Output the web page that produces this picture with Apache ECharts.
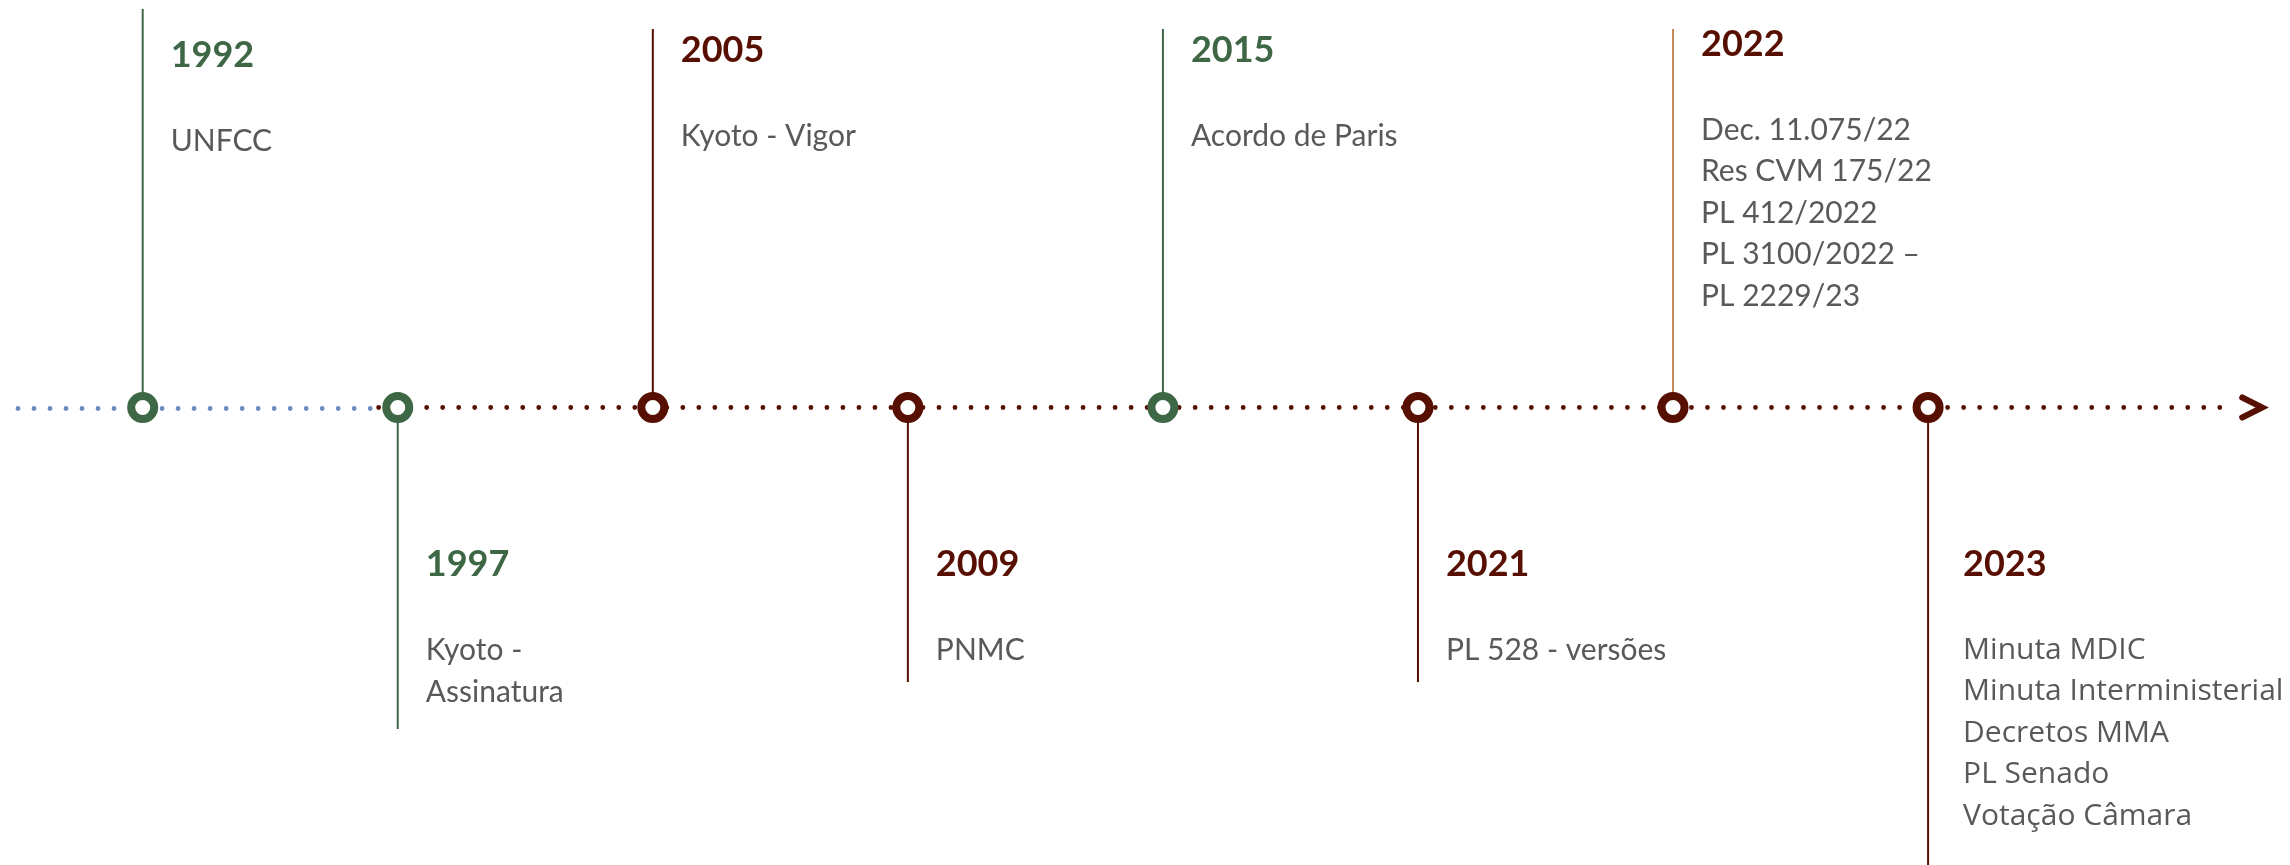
<!DOCTYPE html>
<html>
<head>
<meta charset="utf-8">
<script src="https://cdn.jsdelivr.net/npm/echarts@6/dist/echarts.min.js"></script>
<style>
html,body{margin:0;padding:0;background:#ffffff;}
#chart{width:2290px;height:865px;}
</style>
</head>
<body>
<div id="chart"></div>
<script>
// ---------- DATA ----------
const eventYears = ['1992', '1997', '2005', '2009', '2015', '2021', '2022', '2023'];
const eventTexts = [
  ['UNFCC'],
  ['Kyoto -', 'Assinatura'],
  ['Kyoto - Vigor'],
  ['PNMC'],
  ['Acordo de Paris'],
  ['PL 528 - versões'],
  ['Dec. 11.075/22', 'Res CVM 175/22', 'PL 412/2022', 'PL 3100/2022 –', 'PL 2229/23'],
  ['Minuta MDIC', 'Minuta Interministerial', 'Decretos MMA', 'PL Senado', 'Votação Câmara']
];
const eventSide = ['up', 'down', 'up', 'down', 'up', 'down', 'up', 'down'];
const eventTheme = ['green', 'green', 'red', 'red', 'green', 'red', 'red', 'red'];
const stemTheme = ['green', 'green', 'red', 'red', 'green', 'red', 'tan', 'red'];

// ---------- LAYOUT / STYLE (not data) ----------
const COLORS = {
  green: '#3D6745',
  red: '#570F02',
  tan: '#C38A56',
  blue: '#6E8AC1',
  gray: '#595959'
};
// stem reach (axis units = px above/below the timeline)
const stemReach = [398.5, -321.5, 378.5, -274.5, 378.5, -274.5, 378.5, -457.5];
// year label vertical position (axis units)
const yearLabelY = [352, -157, 357, -157, 357, -157, 363.5, -156.5];
const bodyGap = 86;
const bodyLineGap = 41.6;
const timelineExtent = { blueFrom: -0.489, blueTo: 0.895, redFrom: 0.925, redTo: 8.205, tip: 8.31 };

const chart = echarts.init(document.getElementById('chart'), null, { renderer: 'canvas' });

const dotStyle = (color) => ({
  stroke: color,
  lineWidth: 4.8,
  lineCap: 'round',
  lineDash: [0.01, 16]
});

const option = {
  animation: false,
  backgroundColor: '#ffffff',
  grid: { left: 0, right: 0, top: 0, bottom: 0, containLabel: false },
  xAxis: { type: 'value', min: -0.5595, max: 8.419, show: false },
  yAxis: { type: 'value', min: -457.5, max: 407.5, show: false },
  series: [
    {
      // the dotted timeline with arrow head
      type: 'custom',
      z: 1,
      silent: true,
      data: [[0, 0]],
      renderItem: function (params, api) {
        const b0 = api.coord([timelineExtent.blueFrom, 0]);
        const b1 = api.coord([timelineExtent.blueTo, 0]);
        const r0 = api.coord([timelineExtent.redFrom, 0]);
        const r1 = api.coord([timelineExtent.redTo, 0]);
        const t = api.coord([timelineExtent.tip, 0]);
        return {
          type: 'group',
          children: [
            { type: 'line', shape: { x1: b0[0], y1: b0[1] + 1, x2: b1[0], y2: b1[1] + 1 }, style: dotStyle(COLORS.blue) },
            { type: 'line', shape: { x1: r0[0], y1: r0[1], x2: r1[0], y2: r1[1] }, style: dotStyle(COLORS.red) },
            {
              type: 'polyline',
              shape: { points: [[t[0] - 20, t[1] - 10], [t[0], t[1]], [t[0] - 20, t[1] + 10]] },
              style: { stroke: COLORS.red, lineWidth: 6, fill: null, lineJoin: 'miter', lineCap: 'round' }
            }
          ]
        };
      }
    },
    {
      // stems and labels
      type: 'custom',
      z: 2,
      silent: true,
      data: eventYears.map((y, i) => [i, stemReach[i]]),
      encode: { x: 0, y: 1 },
      renderItem: function (params, api) {
        const i = params.dataIndex;
        const x = api.value(0);
        const base = api.coord([x, 0]);
        const end = api.coord([x, api.value(1)]);
        const offset = i === 7 ? 35 : 28;
        const tx = base[0] + offset;
        const yearPt = api.coord([x, yearLabelY[i]]);
        const children = [
          {
            type: 'line',
            shape: { x1: base[0], y1: base[1], x2: end[0], y2: end[1] },
            style: { stroke: COLORS[stemTheme[i]], lineWidth: 2 }
          },
          {
            type: 'text',
            style: {
              text: eventYears[i], x: tx, y: yearPt[1],
              fill: COLORS[eventTheme[i]],
              font: 'bold 36px Lato',
              align: 'left', verticalAlign: 'middle'
            }
          }
        ];
        const bodyFont = i === 7 ? '30px "Open Sans"' : '30px Lato';
        eventTexts[i].forEach((t, k) => {
          const p = api.coord([x, yearLabelY[i] - bodyGap - k * bodyLineGap]);
          children.push({
            type: 'text',
            style: {
              text: t, x: tx, y: p[1],
              fill: COLORS.gray,
              font: bodyFont,
              align: 'left', verticalAlign: 'middle'
            }
          });
        });
        return { type: 'group', children: children };
      }
    },
    {
      // ring markers
      type: 'scatter',
      z: 3,
      silent: true,
      symbol: 'circle',
      symbolSize: 23,
      data: eventYears.map((y, i) => ({
        value: [i, 0],
        itemStyle: { color: '#ffffff', borderColor: COLORS[eventTheme[i]], borderWidth: 8, opacity: 1 }
      }))
    }
  ]
};

chart.setOption(option);
</script>
</body>
</html>
